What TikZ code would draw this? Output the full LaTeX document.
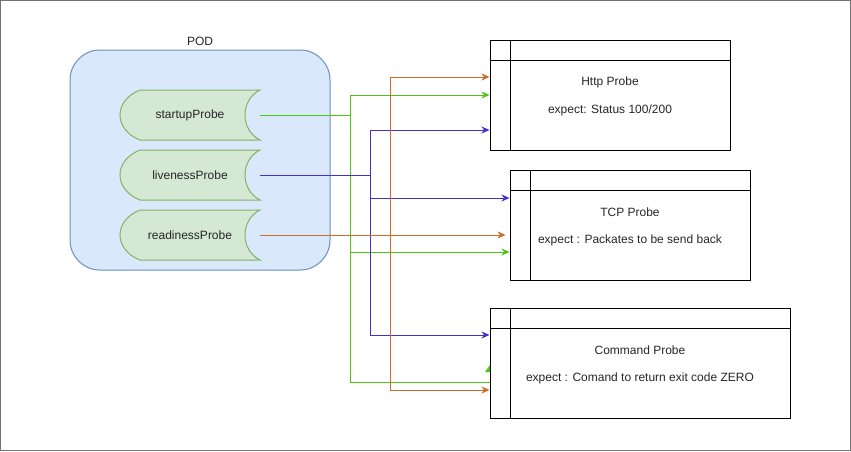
\documentclass[tikz,border=0pt]{standalone}
\usepackage{fontspec}
\setmainfont{Liberation Sans}
\usetikzlibrary{arrows.meta}
\definecolor{podfill}{HTML}{DAE8FC}
\definecolor{podline}{HTML}{6C8EBF}
\definecolor{prfill}{HTML}{D5E8D4}
\definecolor{prline}{HTML}{82B366}
\definecolor{cgreen}{RGB}{78,196,20}
\definecolor{cblue}{RGB}{70,48,204}
\definecolor{corange}{RGB}{208,108,40}
\begin{document}
\begin{tikzpicture}[x=1pt,y=-1pt,
  txt/.style={font=\fontsize{12}{14}\selectfont, text=black!85, inner sep=0pt},
  probetxt/.style={txt, minimum width=140pt, minimum height=50pt},
  pshape/.style={draw=prline, fill=prfill, line width=1pt},
  boxnode/.style={draw=black, line width=1pt, inner sep=0pt},
  conn/.style={line width=1pt},
  tip/.style={-{Stealth[length=8pt,width=7pt,inset=2.5pt]}},
  grn/.style={conn, draw=cgreen, color=cgreen},
  blu/.style={conn, draw=cblue, color=cblue},
  org/.style={conn, draw=corange, color=corange}]
\useasboundingbox (0,0) rectangle (851,451);
\draw[black!55, line width=0.8pt] (0.5,0.5) rectangle (850.5,450.5);

% POD
\draw[draw=podline, fill=podfill, line width=1pt, rounded corners=30pt] (70,50) rectangle (330,270);
\node[txt] (podlbl) at (200,41) {POD};

% probe shapes
\foreach \yc in {115,175,235}{
  \path[pshape] (140,\yc-25) -- (260,\yc-25)
    .. controls (250,\yc-20) and (245,\yc-10) .. (245,\yc)
    .. controls (245,\yc+10) and (250,\yc+20) .. (260,\yc+25)
    -- (140,\yc+25)
    .. controls (127,\yc+20) and (120,\yc+10) .. (120,\yc)
    .. controls (120,\yc-10) and (127,\yc-20) .. (140,\yc-25) -- cycle;
}
\node[probetxt] (sp) at (190,115) {startupProbe};
\node[probetxt] (lp) at (190,175) {livenessProbe};
\node[probetxt] (rp) at (190,235) {readinessProbe};

% target boxes
\node[boxnode, minimum width=240pt, minimum height=110pt] (http) at (610,95) {};
\draw[line width=1pt] (490,60) -- (730,60) (510,40) -- (510,150);
\node[txt] (httpt) at (610,82) {Http Probe};
\node[txt] (httpe) at (610,110) {expect: Status 100/200};

\node[boxnode, minimum width=240pt, minimum height=110pt] (tcp) at (630,225) {};
\draw[line width=1pt] (510,190) -- (750,190) (530,170) -- (530,280);
\node[txt] (tcpt) at (630,212) {TCP Probe};
\node[txt] (tcpe) at (630,240) {expect : Packates to be send back};

\node[boxnode, minimum width=300pt, minimum height=110pt] (cmd) at (640,363) {};
\draw[line width=1pt] (490,328) -- (790,328) (510,308) -- (510,418);
\node[txt] (cmdt) at (640,350) {Command Probe};
\node[txt] (cmde) at (640,378) {expect : Comand to return exit code ZERO};

% helper coordinates
\coordinate (gj) at (350,115);
\coordinate (bj) at (370,175);
\coordinate (oj) at (390,235);
\coordinate (y77) at (0,77);
\coordinate (y95) at (0,95);
\coordinate (y130) at (0,130);
\coordinate (y198) at (0,198);
\coordinate (y252) at (0,252);
\coordinate (y335) at (0,335);
\coordinate (y382) at (0,382);
\coordinate (y390) at (0,390);

% green (startup)
\draw[grn] (sp.east) -- (gj);
\draw[grn, tip] (gj) |- (http.west |- y95);
\draw[grn, tip] (gj) |- (tcp.west |- y252);
\draw[grn] (gj) |- (cmd.west |- y382);
\fill[cgreen] (485,372) -- (490,365) -- (490,372) -- cycle;

% blue (liveness)
\draw[blu] (lp.east) -- (bj);
\draw[blu, tip] (bj) |- (http.west |- y130);
\draw[blu, tip] (bj) |- (tcp.west |- y198);
\draw[blu, tip] (bj) |- (cmd.west |- y335);

% orange (readiness)
\draw[org, tip] (rp.east) -- ([xshift=-4pt]tcp.west |- rp.east);
\draw[org, tip] (oj) |- (http.west |- y77);
\draw[org, tip] (oj) |- (cmd.west |- y390);
\end{tikzpicture}
\end{document}
